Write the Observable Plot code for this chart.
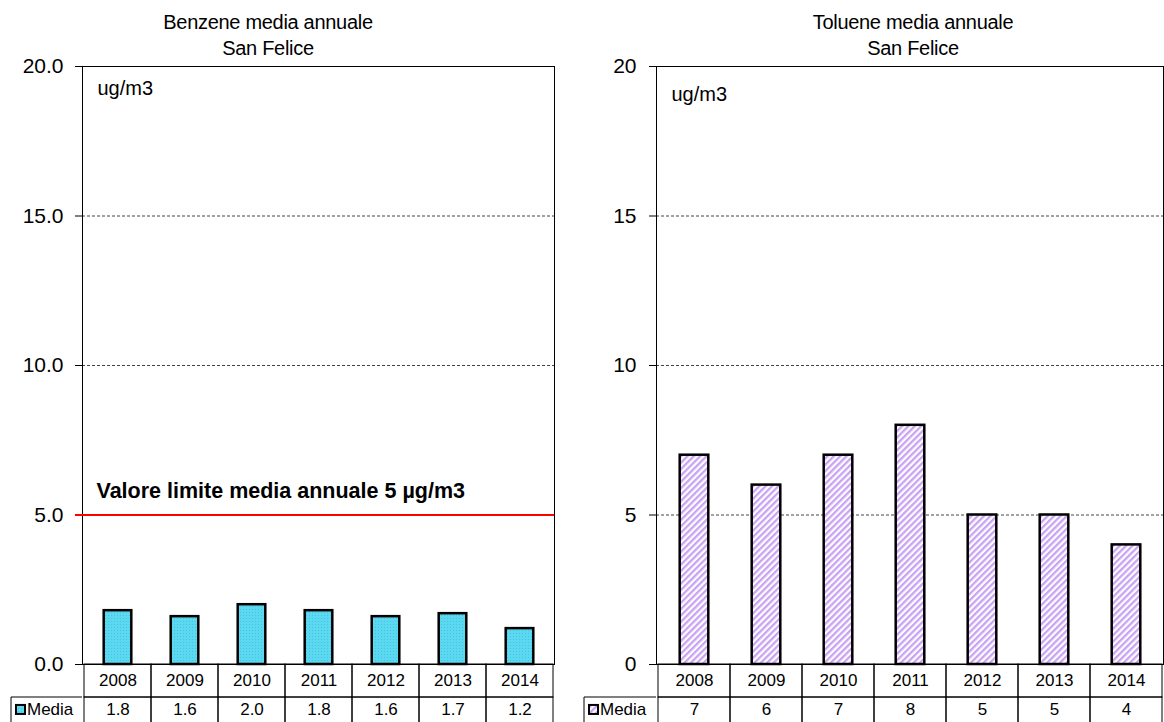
<!DOCTYPE html>
<html>
<head>
<meta charset="utf-8">
<script src="https://cdn.jsdelivr.net/npm/d3@7"></script>
<script src="https://cdn.jsdelivr.net/npm/@observablehq/plot@0.6"></script>
<style>
  html, body { margin: 0; padding: 0; background: #fff; }
  #wrap { position: relative; width: 1164px; height: 722px; overflow: hidden; font-family: "Liberation Sans", Arial, sans-serif; color: #000; }
  .panel { position: absolute; top: 0; }
  .title { position: absolute; top: 9px; width: 320px; text-align: center; font-size: 20px; line-height: 26px; letter-spacing: -0.3px; }
</style>
</head>
<body>
<svg width="0" height="0" style="position:absolute">
  <defs>
    <pattern id="dots" width="3" height="3" patternUnits="userSpaceOnUse">
      <rect width="3" height="3" fill="#5cd8f0"/>
      <rect width="1" height="1" fill="#3ec6e2"/>
    </pattern>
    <pattern id="hatch" width="4.5" height="4.5" patternUnits="userSpaceOnUse" patternTransform="rotate(45)">
      <rect width="4.5" height="4.5" fill="#ffffff"/>
      <rect width="2.3" height="4.5" fill="#c9a3f3"/>
    </pattern>
  </defs>
</svg>
<div id="wrap">
  <div class="title" style="left:108px">Benzene media annuale<br>San Felice</div>
  <div class="title" style="left:753px">Toluene media annuale<br>San Felice</div>
  <div id="left" class="panel" style="left:0px"></div>
  <div id="right" class="panel" style="left:582px"></div>
</div>
<script>
const years = ["2008", "2009", "2010", "2011", "2012", "2013", "2014"];
const benzeneValues = [1.8, 1.6, 2.0, 1.8, 1.6, 1.7, 1.2];
const tolueneValues = [7, 6, 7, 8, 5, 5, 4];
const yTicks = [0, 5, 10, 15, 20];
const benzeneGrid = [10, 15];
const tolueneGrid = [5, 10, 15];
const benzeneLimit = [5];
const limitLabel = "Valore limite media annuale 5 µg/m3";
const unitLabel = "ug/m3";
const seriesName = "Media";

const YEAR_ROW = -1.104;   // depth of the year row below 0 (in y units)
const MEDIA_MID = -1.52;

function labelCell(leftX, swatchFill) {
  return (index, scales, values, dims) => {
    const y = scales.y;
    const top = y(YEAR_ROW);
    const g = d3.create("svg:g");
    g.append("path")
      .attr("d", `M${leftX},${dims.height}V${top}H${dims.marginLeft}`)
      .attr("fill", "none").attr("stroke", "#000").attr("stroke-width", 1);
    const mid = y(MEDIA_MID);
    g.append("rect")
      .attr("x", leftX + 5).attr("y", mid - 4.5)
      .attr("width", 9).attr("height", 9)
      .attr("fill", swatchFill).attr("stroke", "#000").attr("stroke-width", 2);
    g.append("text")
      .attr("x", leftX + 16).attr("y", mid)
      .attr("dy", "0.35em")
      .attr("text-anchor", "start")
      .attr("font-size", 17)
      .attr("fill", "#000")
      .text(seriesName);
    return g.node();
  };
}

function chart(cfg) {
  const data = years.map((year, i) => ({year, value: cfg.values[i]}));
  const marks = [
    Plot.ruleY(cfg.grid, {stroke: "#444", strokeWidth: 1, strokeDasharray: "3,2"}),
    Plot.axisY({ticks: yTicks, tickSize: 7, tickPadding: cfg.tickPadding, fontSize: 21, tickFormat: cfg.tickFormat, label: null}),
    Plot.frame({stroke: "#000", strokeWidth: 1}),
    Plot.barY(data, {x: "year", y: "value", fill: cfg.fill, stroke: "#000", strokeWidth: 2.5, insetLeft: cfg.inset, insetRight: cfg.inset}),
    // data table below the axis
    Plot.barY(years, {x: d => d, y1: 0, y2: YEAR_ROW, fill: "none", stroke: "#000", strokeWidth: 1}),
    Plot.barY(years, {x: d => d, y1: YEAR_ROW, y2: -3, fill: "none", stroke: "#000", strokeWidth: 1}),
    Plot.text(years, {x: d => d, y: -0.552, text: d => d, fontSize: 17, fill: "#000"}),
    Plot.text(data, {x: "year", y: MEDIA_MID, text: d => cfg.fmt(d.value), fontSize: 17, fill: "#000"}),
    Plot.text([unitLabel], {frameAnchor: "top-left", lineAnchor: "middle", dx: 15, dy: cfg.unitDy, text: d => d, fontSize: 20, textAnchor: "start", fill: "#000"}),
    labelCell(cfg.labelLeft, cfg.fill)
  ];
  if (cfg.limit) {
    marks.push(Plot.ruleY(cfg.limit, {stroke: "#ff0000", strokeWidth: 2, insetLeft: -7}));
    marks.push(Plot.text(cfg.limit, {y: d => d, frameAnchor: "left", lineAnchor: "middle", dx: 14, dy: -24, text: () => limitLabel,
      fontSize: 21.5, fontWeight: "bold", textAnchor: "start", fill: "#000"}));
  }
  return Plot.plot({
    width: cfg.width,
    height: 722,
    marginLeft: cfg.marginLeft,
    marginRight: cfg.marginRight,
    marginTop: 66,
    marginBottom: 58,
    x: {domain: years, padding: 0, axis: null},
    y: {domain: [0, 20], axis: null},
    style: {fontFamily: "'Liberation Sans', Arial, sans-serif", color: "#000", background: "transparent", overflow: "hidden"},
    marks
  });
}

document.getElementById("left").append(chart({
  values: benzeneValues, fmt: d3.format(".1f"), tickFormat: d3.format(".1f"),
  fill: "url(#dots)", grid: benzeneGrid, limit: benzeneLimit,
  width: 582, marginLeft: 82, marginRight: 28, inset: 19.7, tickPadding: 12,
  labelLeft: 11, unitDy: 22
}));
document.getElementById("right").append(chart({
  values: tolueneValues, fmt: d3.format("d"), tickFormat: d3.format("d"),
  fill: "url(#hatch)", grid: tolueneGrid, limit: null,
  width: 582, marginLeft: 74, marginRight: 1, inset: 21.7, tickPadding: 13,
  labelLeft: 2, unitDy: 28
}));
</script>
</body>
</html>
